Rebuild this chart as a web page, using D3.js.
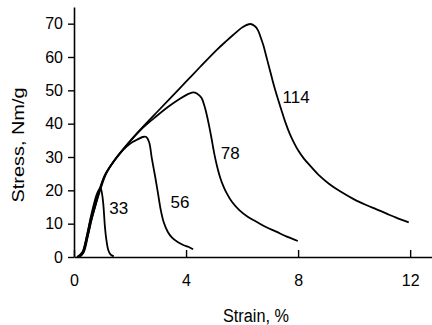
<!DOCTYPE html>
<html>
<head>
<meta charset="utf-8">
<script src="https://cdn.jsdelivr.net/npm/d3@7"></script>
<style>
  html, body { margin: 0; padding: 0; background: #fff; }
  svg { display: block; font-family: "Liberation Sans", Arial, sans-serif; }
</style>
</head>
<body>
<svg id="chart" width="432" height="325"></svg>
<script>
// ---- data (Strain %, Stress Nm/g) ----
const xTicks = [0, 4, 8, 12];
const yTicks = [0, 10, 20, 30, 40, 50, 60, 70];
const xTitle = "Strain, %";
const yTitle = "Stress, Nm/g";

const curve33 = [[0.15,0],[0.3,1],[0.4,4],[0.5,8],[0.6,12],[0.7,15.5],[0.8,18.5],[0.9,20.3],[0.95,20.6],[1.0,19],[1.05,15.5],[1.1,9.5],[1.15,5.5],[1.22,2.2],[1.3,0.8],[1.42,0.2]];
const curve56 = [[0.12,0],[0.3,1.5],[0.45,6],[0.6,11.5],[0.75,16],[0.9,20],[1.1,24.5],[1.4,28.5],[1.76,32.2],[2.0,34],[2.23,35.1],[2.45,36],[2.58,36],[2.68,34.5],[2.78,29.5],[2.9,24],[3.0,19],[3.1,14],[3.2,10.5],[3.35,7.5],[3.5,5.8],[3.7,4.5],[3.9,3.6],[4.1,3],[4.25,2.3]];
const curve78 = [[0.2,0],[0.35,1.5],[0.5,6.5],[0.65,12],[0.8,16.5],[0.95,20.5],[1.15,25],[1.45,29],[1.88,33.5],[2.4,38.3],[2.95,42.3],[3.4,45.3],[3.78,47.5],[4.05,48.8],[4.25,49.4],[4.4,49],[4.55,47.8],[4.65,45.5],[4.73,43],[4.82,39.5],[4.9,36],[5.02,30.5],[5.12,26.8],[5.22,23.8],[5.32,21.5],[5.44,19.3],[5.65,16.4],[5.91,14],[6.2,12.1],[6.51,10.6],[6.85,9],[7.22,7.6],[7.6,6.1],[7.99,4.8]];
const curve114 = [[0.1,0],[0.3,1],[0.45,5],[0.6,10.5],[0.75,15],[0.9,19.5],[1.1,24.5],[1.4,28.5],[1.7,31.8],[2.0,34.8],[2.5,39.4],[3.0,43.8],[3.5,48.2],[4.0,52.6],[4.5,57],[5.08,62],[5.4,64.5],[5.68,66.6],[6.03,69],[6.29,69.9],[6.45,69.3],[6.57,68],[6.66,66],[6.76,63.5],[6.87,60],[6.98,56.5],[7.1,52.6],[7.25,48.2],[7.4,44.2],[7.55,40.3],[7.7,37],[7.85,34.3],[8.0,32],[8.2,29.6],[8.45,27.2],[8.76,24.4],[9.1,22],[9.5,19.7],[10.0,17.3],[10.43,15.6],[10.8,14.3],[11.14,13.1],[11.5,11.8],[11.95,10.4]];

const seriesNames = ["33", "56", "78", "114"];
const seriesData = [curve33, curve56, curve78, curve114];
const labelPos = [[1.60, 14.7], [3.78, 16.5], [5.575, 31.2], [7.93, 48.0]];

// ---- drawing ----
const svg = d3.select("#chart");
const x = d3.scaleLinear().domain([0, 12.78]).range([74, 432]);
const y = d3.scaleLinear().domain([0, 75]).range([257, 7]);

const line = d3.line()
  .x(d => x(d[0]))
  .y(d => y(d[1]))
  .curve(d3.curveCatmullRom.alpha(0.5));

svg.append("g")
  .selectAll("path")
  .data(seriesData)
  .join("path")
  .attr("d", line)
  .attr("fill", "none")
  .attr("stroke", "#000")
  .attr("stroke-width", 1.8)
  .attr("stroke-linejoin", "round");

// x axis
const xAxis = svg.append("g")
  .attr("transform", `translate(0,${y(0)})`)
  .call(d3.axisBottom(x).tickValues(xTicks).tickSizeInner(-7).tickSizeOuter(0).tickPadding(18).tickFormat(d3.format("d")));
xAxis.select(".domain").attr("stroke-width", 1.6);
xAxis.selectAll(".tick line").attr("stroke-width", 1.4);
xAxis.selectAll(".tick text").attr("font-size", 16).attr("fill", "#000")
  .attr("font-family", "'Liberation Sans', Arial, sans-serif");

// y axis
const yAxis = svg.append("g")
  .attr("transform", `translate(${x(0)},0)`)
  .call(d3.axisLeft(y).tickValues(yTicks).tickSize(6).tickSizeOuter(0).tickPadding(5).tickFormat(d3.format("d")));
yAxis.select(".domain").attr("stroke-width", 1.6);
yAxis.selectAll(".tick line").attr("stroke-width", 1.4);
yAxis.selectAll(".tick text").attr("font-size", 16).attr("fill", "#000")
  .attr("font-family", "'Liberation Sans', Arial, sans-serif");

// curve labels
svg.append("g")
  .selectAll("text")
  .data(seriesNames)
  .join("text")
  .attr("x", (d, i) => x(labelPos[i][0]))
  .attr("y", (d, i) => y(labelPos[i][1]))
  .attr("dy", "0.36em")
  .attr("text-anchor", "middle")
  .attr("font-size", 17)
  .attr("fill", "#000")
  .text(d => d);

// axis titles
svg.append("text")
  .attr("x", 256)
  .attr("y", 321.5)
  .attr("text-anchor", "middle")
  .attr("font-size", 18)
  .attr("textLength", 66)
  .attr("lengthAdjust", "spacingAndGlyphs")
  .attr("fill", "#000")
  .text(xTitle);

svg.append("text")
  .attr("transform", "translate(23.5,145) rotate(-90)")
  .attr("text-anchor", "middle")
  .attr("font-size", 16)
  .attr("textLength", 115)
  .attr("lengthAdjust", "spacingAndGlyphs")
  .attr("fill", "#000")
  .text(yTitle);
</script>
</body>
</html>
